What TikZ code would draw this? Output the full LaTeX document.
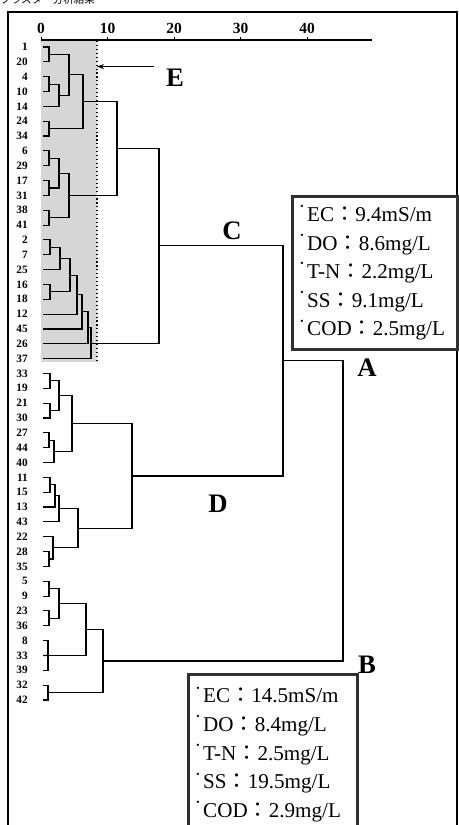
\documentclass[tikz,border=0pt]{standalone}
\usepackage{fontspec}
\setmainfont{Liberation Serif}
\newfontfamily\cjk{Noto Sans CJK JP}
\usepackage{tikz}
\usetikzlibrary{arrows.meta, calc}
\definecolor{groupbg}{HTML}{D6D6D6}
\definecolor{boxline}{HTML}{303030}
\newcommand{\bul}{\raisebox{0.55em}{\scalebox{0.45}{\textbullet}}\,}
\newcommand{\cln}{{\cjk ：}}
\newcommand{\dmerge}[4]{%
  \coordinate (tmp) at ($(#2)!0.5!(#3)$);
  \coordinate (#1) at (#4,0 |- tmp);
  \draw[branch] (#2) -| (#4,0 |- #3) -- (#3);
}

\begin{document}
\begin{tikzpicture}[x=0.25mm, y=-0.25mm, >=Stealth]
    \tikzstyle{branch} = [line width=0.8pt]
    \tikzstyle{leaf} = [anchor=east, inner sep=0, font=\fontsize{8}{8}\selectfont\bfseries]
    \tikzstyle{ticklab} = [inner sep=0, font=\fontsize{11}{11}\selectfont\bfseries]
    \tikzstyle{cl} = [inner sep=0, font=\fontsize{19}{19}\selectfont\bfseries]
    \tikzstyle{infobox} = [rectangle, draw=boxline, line width=2pt, anchor=north west, inner xsep=2mm, align=left, font=\fontsize{15}{20.3}\selectfont]
    \tikzstyle{pointer} = [-{Stealth[length=5pt, width=3.5pt]}, line width=0.5pt]

    \useasboundingbox (0,0) rectangle (458,825);

    % frame and title
    \node[anchor=base west, inner sep=0, font=\cjk\fontsize{7.5}{7.5}\selectfont] (title) at (0,4) {クラスター分析結果};
    \draw[line width=1.3pt] (8,830) -- (8,12) -- (457,12) -- (457,830);

    % shaded group E
    \fill[groupbg] (41,41) rectangle (97,362);
    \draw[dotted, line width=0.8pt] (97,41) -- (97,362);
    \coordinate (ebound) at (97,41);

    % axis
    \draw[line width=1pt] (41,40) -- (372,40);
    \foreach \t in {0,10,20,30,40} {
        \draw[line width=0.6pt] ({41+6.65*\t},40) -- ++(0,-2.5);
        \node[ticklab] (tick\t) at ({41+6.65*\t},28) {\t};
    }

    % leaves
    \foreach \lab [count=\i] in {1,20,4,10,14,24,34,6,29,17,31,38,41,2,7,25,16,18,12,45,26,37,33,19,21,30,27,44,40,11,15,13,43,22,28,35,5,9,23,36,8,33,39,32,42} {
        \node[leaf] (lab\i) at (28,{47+14.84*(\i-1)}) {\lab};
        \coordinate (l\i) at (43,{47+14.84*(\i-1)});
    }

    % cluster C
    \dmerge{a1}{l1}{l2}{49}
    \dmerge{a2}{l3}{l4}{49}
    \dmerge{a3}{a2}{l5}{59}
    \dmerge{a4}{a1}{a3}{69}
    \dmerge{a5}{l6}{l7}{49}
    \dmerge{a6}{a4}{a5}{83}
    \dmerge{b1}{l8}{l9}{49}
    \dmerge{b2}{l10}{l11}{49}
    \dmerge{b3}{b1}{b2}{59}
    \dmerge{b4}{l12}{l13}{49}
    \dmerge{b5}{b3}{b4}{69}
    \dmerge{ab}{a6}{b5}{117}
    \dmerge{c1}{l14}{l15}{50}
    \dmerge{c2}{c1}{l16}{60}
    \dmerge{c3}{l17}{l18}{50}
    \dmerge{c4}{c2}{c3}{70}
    \dmerge{c5}{c4}{l19}{77}
    \dmerge{c6}{c5}{l20}{82}
    \dmerge{c7}{c6}{l21}{88}
    \dmerge{c8}{c7}{l22}{91}
    \dmerge{T}{ab}{c8}{159}

    % cluster D
    \dmerge{d1}{l23}{l24}{50}
    \dmerge{d2}{l25}{l26}{50}
    \dmerge{d3}{d1}{d2}{59}
    \dmerge{d4}{l27}{l28}{49}
    \dmerge{d5}{d4}{l29}{54}
    \dmerge{d6}{d3}{d5}{72}
    \dmerge{e1}{l30}{l31}{50}
    \dmerge{e2}{e1}{l32}{55}
    \dmerge{e3}{e2}{l33}{59}
    \dmerge{e4}{l35}{l36}{49}
    \dmerge{e5}{l34}{e4}{53}
    \dmerge{e6}{e3}{e5}{78}
    \dmerge{D}{d6}{e6}{132}

    % cluster B side
    \dmerge{f1}{l37}{l38}{49}
    \dmerge{f2}{l39}{l40}{49}
    \dmerge{f3}{f1}{f2}{59}
    \dmerge{f4}{l41}{l43}{48}
    \draw[branch] (l42) -- (f4);
    \dmerge{f5}{f3}{f4}{86}
    \dmerge{f6}{l44}{l45}{48}
    \dmerge{f7}{f5}{f6}{103}

    \dmerge{CD}{T}{D}{283}
    \dmerge{R}{CD}{f7}{343}

    % labels
    \node[cl] (C) at (232,231) {C};
    \node[cl] (Dl) at (218,504) {D};
    \node[cl] (E) at (175,78) {E};
    \node[cl] (A) at (367,368) {A};
    \node[cl] (B) at (367,665) {B};
    \coordinate (etail) at ([xshift=-3mm, yshift=0.6mm]E.north west);
    \draw[pointer] (etail) -- (ebound |- etail);

    % water quality boxes
    \node[infobox, minimum width=41.25mm, minimum height=38.25mm, text width=37.25mm] (boxA) at (291,195)
        {\bul EC\cln 9.4mS/m\\ \bul DO\cln 8.6mg/L\\ \bul T-N\cln 2.2mg/L\\ \bul SS\cln 9.1mg/L\\ \bul COD\cln 2.5mg/L};
    \node[infobox, minimum width=42.25mm, minimum height=40mm, text width=38.25mm] (boxB) at (187,673)
        {\bul EC\cln 14.5mS/m\\ \bul DO\cln 8.4mg/L\\ \bul T-N\cln 2.5mg/L\\ \bul SS\cln 19.5mg/L\\ \bul COD\cln 2.9mg/L};
\end{tikzpicture}
\end{document}
